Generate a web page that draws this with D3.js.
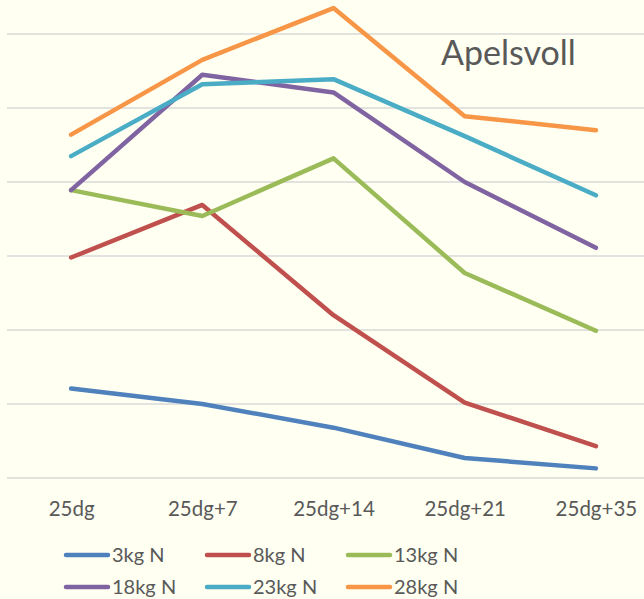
<!DOCTYPE html>
<html>
<head>
<meta charset="utf-8">
<script src="https://cdn.jsdelivr.net/npm/d3@7"></script>
<style>
  html, body { margin: 0; padding: 0; background: #FFFFF2; }
  svg { display: block; font-family: Lato, "Open Sans", sans-serif; }
</style>
</head>
<body>
<svg id="chart" width="644" height="599"></svg>
<script>
// Categories and series (grid step = 10)
const categories = ['25dg', '25dg+7', '25dg+14', '25dg+21', '25dg+35'];
const seriesNames = ['3kg N', '8kg N', '13kg N', '18kg N', '23kg N', '28kg N'];
const s3  = [12.1, 10.0, 6.8, 2.7, 1.3];
const s8  = [29.8, 36.9, 22.0, 10.2, 4.3];
const s13 = [38.9, 35.4, 43.2, 27.7, 19.9];
const s18 = [38.9, 54.5, 52.1, 40.0, 31.1];
const s23 = [43.5, 53.2, 53.9, 46.2, 38.2];
const s28 = [46.4, 56.5, 63.5, 48.9, 47.0];
const gridTicks = [0, 10, 20, 30, 40, 50, 60];
const colors = ['#4F81BD', '#C0504D', '#9BBB59', '#8064A2', '#4BACC6', '#F79646'];

const series = [s3, s8, s13, s18, s23, s28].map((vals, i) => ({
    name: seriesNames[i],
    color: colors[i],
    values: vals
}));

const svg = d3.select('#chart');

// Scales
const x = d3.scalePoint()
    .domain(categories)
    .range([5.5, 661.5])
    .padding(0.5);

const y = d3.scaleLinear()
    .domain([0, 60])
    .range([478, 34]);

// Gridlines
svg.append('g')
    .selectAll('line')
    .data(gridTicks)
    .enter().append('line')
    .attr('x1', 7)
    .attr('x2', 644)
    .attr('y1', d => y(d))
    .attr('y2', d => y(d))
    .attr('stroke', '#D9D9D9')
    .attr('stroke-width', 1.5);

// X axis labels
const xAxis = d3.axisBottom(x).tickSize(0).tickPadding(0);
const gx = svg.append('g')
    .attr('transform', 'translate(0,516)')
    .call(xAxis);
gx.select('.domain').remove();
gx.selectAll('text')
    .attr('y', 0)
    .attr('dy', 0)
    .style('font-size', '20.5px')
    .style('font-family', 'Lato, "Open Sans", sans-serif')
    .attr('fill', '#595959');

// Lines
const line = d3.line()
    .x((d, i) => x(categories[i]))
    .y(d => y(d));

svg.append('g')
    .selectAll('path')
    .data(series)
    .enter().append('path')
    .attr('d', d => line(d.values))
    .attr('fill', 'none')
    .attr('stroke', d => d.color)
    .attr('stroke-width', 4.5)
    .attr('stroke-linejoin', 'round')
    .attr('stroke-linecap', 'round');

// Title
svg.append('text')
    .attr('x', 441)
    .attr('y', 65)
    .text('Apelsvoll')
    .style('font-size', '34px')
    .attr('fill', '#595959');

// Legend
const legend = svg.append('g')
    .selectAll('g')
    .data(series)
    .enter().append('g')
    .attr('transform', (d, i) => `translate(${66 + (i % 3) * 141},${555 + Math.floor(i / 3) * 32})`);

legend.append('line')
    .attr('x1', 0)
    .attr('x2', 42)
    .attr('stroke', d => d.color)
    .attr('stroke-width', 4.5)
    .attr('stroke-linecap', 'round');

legend.append('text')
    .attr('x', 46)
    .attr('dy', '0.35em')
    .text(d => d.name)
    .style('font-size', '20px')
    .attr('fill', '#595959');
</script>
</body>
</html>
